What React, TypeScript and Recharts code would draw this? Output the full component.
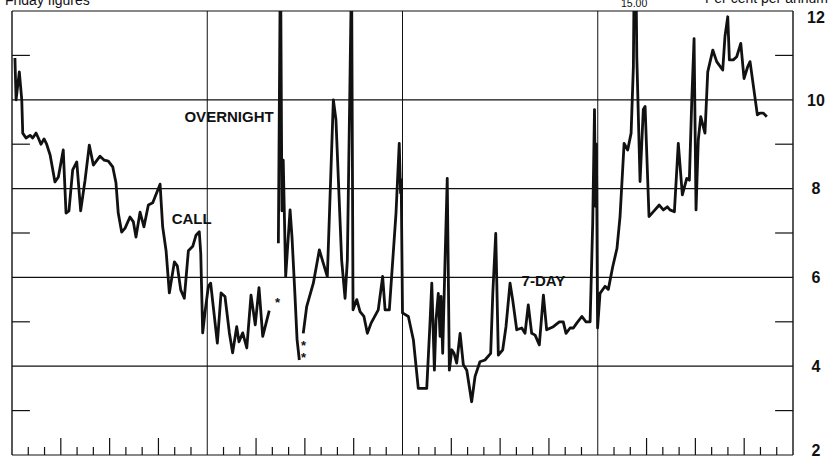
import React from 'react';
import { LineChart, Line, XAxis, YAxis, ReferenceLine, ReferenceDot } from 'recharts';

const FONT = '"Liberation Sans", Arial, Helvetica, sans-serif';
const INK = '#111';

// [month (0-48), per cent per annum]
const CALL: [number, number][] = [
  [0.18, 10.94], [0.25, 10.0], [0.45, 10.63], [0.6, 10.0], [0.66, 9.25], [0.86, 9.14],
  [1.11, 9.2], [1.27, 9.14], [1.48, 9.25], [1.62, 9.14], [1.78, 9.0], [1.97, 9.12],
  [2.13, 9.0], [2.34, 8.76], [2.64, 8.15], [2.85, 8.26], [3.15, 8.87], [3.32, 7.45],
  [3.5, 7.5], [3.73, 8.42], [3.98, 8.6], [4.22, 7.5], [4.49, 8.19], [4.75, 8.98],
  [5.0, 8.53], [5.41, 8.73], [5.67, 8.64], [5.92, 8.62], [6.19, 8.49], [6.39, 8.13],
  [6.53, 7.45], [6.74, 7.02], [6.95, 7.11], [7.25, 7.36], [7.46, 7.25], [7.62, 6.91],
  [7.87, 7.47], [8.11, 7.14], [8.38, 7.63], [8.65, 7.68], [9.1, 8.1], [9.26, 7.14],
  [9.47, 6.6], [9.67, 5.65], [9.98, 6.35], [10.16, 6.26], [10.37, 5.72], [10.59, 5.53],
  [10.84, 6.6], [11.11, 6.7], [11.31, 6.95], [11.51, 7.03], [11.6, 6.55], [11.72, 4.75],
  [11.88, 5.27], [12.07, 5.8], [12.21, 5.87], [12.37, 5.34], [12.62, 4.52], [12.85, 5.65],
  [13.09, 5.57], [13.36, 4.75], [13.56, 4.3], [13.81, 4.89], [13.95, 4.55], [14.18, 4.75],
  [14.43, 4.41], [14.69, 5.6], [14.95, 4.93], [15.18, 5.77], [15.41, 4.67], [15.81, 5.25],
];

const OVERNIGHT: [number, number][] = [
  [16.37, 6.77], [16.5, 13.5], [16.59, 7.5], [16.67, 8.64], [16.82, 6.02], [17.09, 7.52],
  [17.21, 6.9], [17.39, 5.6], [17.52, 4.6], [17.66, 4.14],
];

const SEVEN_DAY: [number, number][] = [
  [17.9, 4.74], [18.11, 5.34], [18.52, 5.87], [18.89, 6.62], [19.13, 6.32], [19.38, 6.02],
  [19.75, 10.0], [19.91, 9.55], [20.26, 6.39], [20.47, 5.53], [20.61, 6.39], [20.77, 10.38],
  [20.87, 13.0], [20.96, 5.27], [21.19, 5.5], [21.39, 5.23], [21.63, 5.12], [21.84, 4.74],
  [22.07, 4.97], [22.51, 5.27], [22.78, 6.02], [22.93, 5.27], [23.19, 5.27], [23.6, 7.44],
  [23.8, 9.02], [23.88, 7.9], [23.92, 8.2], [24.0, 5.2], [24.36, 5.12], [24.67, 4.59],
  [24.97, 3.5], [25.49, 3.5], [25.69, 4.97], [25.8, 5.87], [25.96, 3.91], [26.06, 5.04],
  [26.2, 5.64], [26.31, 4.67], [26.37, 5.57], [26.47, 4.29], [26.61, 6.32], [26.75, 8.23],
  [26.88, 3.91], [27.03, 4.37], [27.17, 4.29], [27.33, 4.07], [27.54, 4.74], [27.74, 4.03],
  [27.95, 3.91], [28.25, 3.2], [28.46, 3.77], [28.76, 4.1], [29.07, 4.14], [29.42, 4.29],
  [29.55, 5.64], [29.73, 6.99], [29.89, 4.25], [30.16, 4.37], [30.36, 4.89], [30.61, 5.87],
  [30.77, 5.5], [31.02, 4.82], [31.33, 4.86], [31.53, 4.74], [31.73, 5.38], [31.94, 4.74],
  [32.15, 4.7], [32.41, 4.48], [32.66, 5.6], [32.86, 4.82], [33.27, 4.89], [33.64, 5.0],
  [33.88, 5.0], [34.05, 4.74], [34.3, 4.86], [34.5, 4.86], [34.71, 4.97], [35.02, 5.12],
  [35.28, 5.0], [35.53, 5.0], [35.69, 7.22], [35.8, 9.78], [35.86, 7.6], [35.92, 9.0],
  [35.99, 4.86], [36.14, 5.64], [36.45, 5.8], [36.65, 5.73], [36.92, 6.24], [37.18, 6.65],
  [37.37, 7.37], [37.62, 9.02], [37.84, 8.87], [38.05, 9.25], [38.19, 10.75], [38.29, 15.0],
  [38.4, 10.97], [38.6, 8.16], [38.8, 9.78], [38.91, 9.85], [39.15, 7.37], [39.42, 7.48],
  [39.78, 7.63], [40.03, 7.52], [40.28, 7.59], [40.44, 7.52], [40.71, 7.48], [40.95, 9.02],
  [41.2, 7.86], [41.47, 8.23], [41.63, 8.19], [41.78, 10.0], [41.92, 11.38], [42.04, 7.52],
  [42.18, 9.1], [42.33, 9.62], [42.59, 9.25], [42.76, 10.63], [43.07, 11.12], [43.31, 10.86],
  [43.68, 10.67], [43.82, 11.43], [43.99, 11.87], [44.09, 10.9], [44.33, 10.9], [44.54, 10.97],
  [44.79, 11.27], [44.99, 10.48], [45.22, 10.75], [45.36, 10.86], [45.81, 9.66], [45.97, 9.7],
  [46.18, 9.7], [46.39, 9.62],
];

const Y_TICKS = [2, 4, 6, 8, 10, 12];
const Y_MINOR = [3, 5, 7, 9, 11];
const X_GRID = [0, 12, 24, 36, 48];
const X_TICKS = Array.from({ length: 49 }, (_, i) => i);

// series names placed on the chart, in data units
const LABELS = [
  { text: 'OVERNIGHT', x: 13.34, y: 9.61, size: 15 },
  { text: 'CALL', x: 11.04, y: 7.33, size: 15 },
  { text: '7-DAY', x: 32.66, y: 5.92, size: 15 },
  { text: '*', x: 16.32, y: 5.5, size: 13 },
  { text: '**', x: 17.92, y: 4.52, size: 13 },
];

const toRows = (pts: [number, number][]) => pts.map(([x, y]) => ({ x, y }));

function XTick(props: any) {
  const { x, y, payload } = props;
  const v = payload.value;
  if (v % 12 === 0) return <g />;
  const len = v % 3 === 0 ? 17 : 8;
  return <line x1={x} x2={x} y1={y} y2={y - len} stroke={INK} strokeWidth={1.2} />;
}

function YTick(props: any) {
  const { x, y, payload } = props;
  const v = payload.value;
  const shift = v === 12 ? 6 : v === 2 ? -5 : 0;
  return (
    <text x={x + 23} y={y + shift} dy="0.36em" textAnchor="middle" fontFamily={FONT} fontWeight="bold" fontSize={16} fill={INK}>
      {v}
    </text>
  );
}

// stacked characters (the "**" footnote marks sit one above the other)
function StackLabel(text: string, size: number) {
  return (props: any) => {
    const { viewBox } = props;
    const cx = viewBox.x + viewBox.width / 2;
    const cy = viewBox.y + viewBox.height / 2;
    const chars = text.split('');
    return (
      <text x={cx} y={cy} textAnchor="middle" fontFamily={FONT} fontWeight="bold" fontSize={size} fill={INK}>
        {chars.map((c, i) => (
          <tspan key={i} x={cx} dy={i === 0 ? '0.55em' : 12}>
            {c}
          </tspan>
        ))}
      </text>
    );
  };
}

export default function App() {
  return (
    <div style={{ position: 'absolute', top: 0, left: 0, width: 829, height: 458, background: '#fff' }}>
      <LineChart width={829} height={458} margin={{ top: 11, right: 0, bottom: 2, left: 12 }}>
        <XAxis
          type="number"
          dataKey="x"
          domain={[0, 48]}
          ticks={X_TICKS}
          interval={0}
          height={1}
          axisLine={false}
          tickLine={false}
          tickSize={0}
          tickMargin={0}
          tick={<XTick />}
        />
        <YAxis
          orientation="right"
          type="number"
          domain={[2, 12]}
          ticks={Y_TICKS}
          interval={0}
          allowDataOverflow
          width={36}
          axisLine={false}
          tickLine={false}
          tickSize={0}
          tickMargin={0}
          tick={<YTick />}
        />
        {Y_TICKS.map((v) => (
          <ReferenceLine key={`h${v}`} y={v} stroke={INK} strokeWidth={1.2} />
        ))}
        {X_GRID.map((v) => (
          <ReferenceLine key={`v${v}`} x={v} stroke={INK} strokeWidth={v % 48 === 0 ? 1.4 : 1} />
        ))}
        {Y_MINOR.map((v) => (
          <ReferenceLine key={`l${v}`} segment={[{ x: 0, y: v }, { x: 1.1, y: v }]} stroke={INK} strokeWidth={1.2} />
        ))}
        {Y_MINOR.map((v) => (
          <ReferenceLine key={`r${v}`} segment={[{ x: 46.9, y: v }, { x: 48, y: v }]} stroke={INK} strokeWidth={1.2} />
        ))}
        {[CALL, OVERNIGHT, SEVEN_DAY].map((s, i) => (
          <Line
            key={i}
            data={toRows(s)}
            dataKey="y"
            type="linear"
            stroke={INK}
            strokeWidth={2.8}
            strokeLinejoin="round"
            dot={false}
            activeDot={false}
            isAnimationActive={false}
          />
        ))}
        {LABELS.map((l, i) => (
          <ReferenceDot
            key={`t${i}`}
            x={l.x}
            y={l.y}
            r={0}
            fill="none"
            stroke="none"
            label={
              l.text.startsWith('*')
                ? { content: StackLabel(l.text, l.size) }
                : { value: l.text, position: 'center', fontSize: l.size, fontWeight: 'bold', fill: INK, fontFamily: FONT }
            }
          />
        ))}
      </LineChart>
      <svg width={829} height={458} style={{ position: 'absolute', top: 0, left: 0, pointerEvents: 'none' }}>
        <text x={5} y={5} fontFamily={FONT} fontSize={14} fill={INK}>Friday figures</text>
        <text x={621} y={7} fontFamily={FONT} fontSize={10.5} fill={INK}>15.00</text>
        <text x={705} y={3} fontFamily={FONT} fontSize={14} fill={INK}>Per cent per annum</text>
      </svg>
    </div>
  );
}
